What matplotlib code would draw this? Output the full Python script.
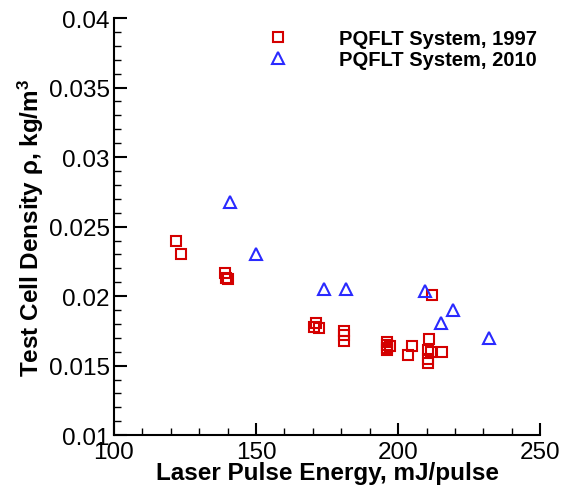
import matplotlib
matplotlib.use('Agg')
from matplotlib import pyplot as plt
from matplotlib.ticker import MultipleLocator, FormatStrFormatter

# PQFLT System, 1997
energy_1997 = [122, 123.5, 139, 139.5, 140,
               171, 170.5, 172,
               181, 181, 181,
               196, 196, 196, 196, 197,
               204.8, 203.3,
               210.7, 210.4, 211.5, 210.4, 210.6, 215.6, 211.8]
density_1997 = [0.0240, 0.0230, 0.0217, 0.0213, 0.0212,
                0.0181, 0.0178, 0.0177,
                0.0175, 0.0172, 0.0168,
                0.0167, 0.0165, 0.0163, 0.0161, 0.0164,
                0.0164, 0.0158,
                0.0169, 0.0161, 0.0160, 0.0155, 0.0152, 0.0160, 0.0201]

# PQFLT System, 2010
energy_2010 = [140.9, 150.0, 173.9, 181.6, 209.5, 219.2, 215.1, 232.1]
density_2010 = [0.0268, 0.0230, 0.0205, 0.0205, 0.0204, 0.0190, 0.0181, 0.0170]

plt.rcParams['font.family'] = ['Liberation Sans', 'DejaVu Sans']
plt.rcParams['mathtext.fontset'] = 'custom'
plt.rcParams['mathtext.rm'] = 'Liberation Sans'
plt.rcParams['mathtext.it'] = 'Liberation Sans'
plt.rcParams['mathtext.bf'] = 'Liberation Sans:bold'
plt.rcParams['mathtext.default'] = 'regular'

fig = plt.figure(figsize=(5.61, 4.89), dpi=100)
ax = fig.add_axes([0.203, 0.108, 0.760, 0.853])

ax.plot(energy_1997, density_1997, linestyle='none', marker='s',
        markersize=7.8, markerfacecolor='none', markeredgecolor='#d40000',
        markeredgewidth=1.5, label='PQFLT System, 1997')
ax.plot(energy_2010, density_2010, linestyle='none', marker='^',
        markersize=9, markerfacecolor='none', markeredgecolor='#2a2aff',
        markeredgewidth=1.5, label='PQFLT System, 2010')

ax.set_xlim(100, 250)
ax.set_ylim(0.01, 0.04)
ax.xaxis.set_major_locator(MultipleLocator(50))
ax.xaxis.set_minor_locator(MultipleLocator(10))
ax.yaxis.set_major_locator(MultipleLocator(0.005))
ax.yaxis.set_minor_locator(MultipleLocator(0.001))
ax.yaxis.set_major_formatter(FormatStrFormatter('%g'))

for side in ('top', 'right'):
    ax.spines[side].set_visible(False)
for side in ('left', 'bottom'):
    ax.spines[side].set_linewidth(1.5)

ax.tick_params(which='major', direction='in', length=9, width=1.5,
               labelsize=17.5, pad=3)
ax.tick_params(which='minor', direction='in', length=5, width=1)
ax.tick_params(axis='x', which='major', pad=4)

ax.set_xlabel('Laser Pulse Energy, mJ/pulse', fontsize=17.5,
              fontweight='bold', labelpad=-1)
ax.set_ylabel(r'Test Cell Density $\rho$, kg/m$^\mathbf{3}$', fontsize=17.5,
              fontweight='bold', labelpad=2)

ax.legend(loc='upper right', bbox_to_anchor=(1.02, 1.003), frameon=False,
          handletextpad=2.0, labelspacing=0.12, borderaxespad=0.2,
          prop={'weight': 'bold', 'size': 14.5})

plt.savefig('out.png', dpi=100)
